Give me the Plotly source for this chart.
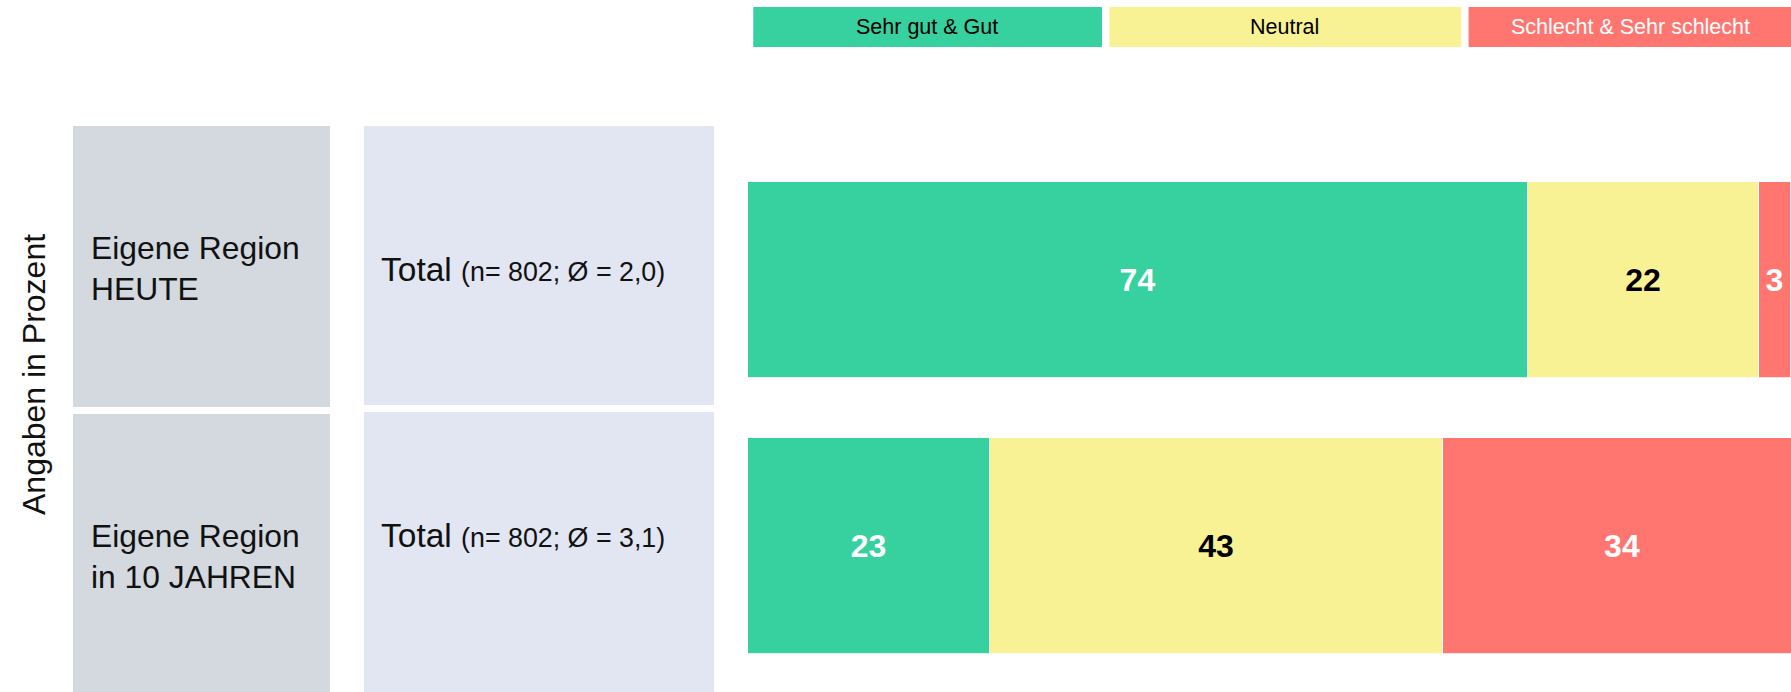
import plotly.graph_objects as go

# ---- data ----
rows = ["Eigene Region HEUTE", "Eigene Region in 10 JAHREN"]
row_labels = ["Eigene Region<br>HEUTE", "Eigene Region<br>in 10 JAHREN"]
row_totals = ["(n= 802; Ø = 2,0)", "(n= 802; Ø = 3,1)"]
series_names = ["Sehr gut & Gut", "Neutral", "Schlecht & Sehr schlecht"]
sehr_gut_gut = [74, 23]
neutral = [22, 43]
schlecht = [3, 34]
y_title = "Angaben in Prozent"

# ---- style ----
W, H = 1791, 692
L, R, T, B = 748, 0, 120, 13
FONT = "Liberation Sans, Arial, sans-serif"
COLORS = ["#37D09F", "#F8F294", "#FF7670"]
LABEL_COLORS = ["white", "black", "white"]
BAR_WIDTHS = [0.735, 0.81]
GRAY = "#D3D9DF"
LAV = "#E2E6F2"


def px2x(px):
    return (px - L) / (W - L - R)


def py2y(py):
    return (H - B - py) / (H - T - B)


fig = go.Figure()
for name, vals, col, lcol in zip(series_names, [sehr_gut_gut, neutral, schlecht], COLORS, LABEL_COLORS):
    fig.add_trace(go.Bar(
        y=rows, x=vals, name=name, orientation="h",
        width=BAR_WIDTHS,
        marker=dict(color=col, line=dict(color="rgba(255,255,255,0.8)", width=1)),
        text=[str(v) for v in vals], textposition="inside", insidetextanchor="middle",
        textfont=dict(family=FONT, size=32, color=lcol, weight="bold"),
        constraintext="none",
        showlegend=False, hoverinfo="skip",
    ))

shapes = []
annotations = []

# left label boxes
box_rows = [(126, 407, 126, 405), (414, 700, 412, 700)]
for i, (g0, g1, l0, l1) in enumerate(box_rows):
    shapes.append(dict(type="rect", xref="paper", yref="paper",
                       x0=px2x(73), x1=px2x(330), y0=py2y(g1), y1=py2y(g0),
                       fillcolor=GRAY, line=dict(width=0), layer="below"))
    shapes.append(dict(type="rect", xref="paper", yref="paper",
                       x0=px2x(364), x1=px2x(714), y0=py2y(l1), y1=py2y(l0),
                       fillcolor=LAV, line=dict(width=0), layer="below"))

label_y = [268, 556]
total_y = [269, 535]
for i in range(2):
    annotations.append(dict(xref="paper", yref="paper", x=px2x(89), y=py2y(label_y[i]),
                            xanchor="left", yanchor="middle", align="left", showarrow=False,
                            text=row_labels[i], font=dict(family=FONT, size=31.8, color="#111")))
    annotations.append(dict(xref="paper", yref="paper", x=px2x(379), y=py2y(total_y[i]),
                            xanchor="left", yanchor="middle", align="left", showarrow=False,
                            text="Total <span style='font-size:26.8px'>" + row_totals[i] + "</span>",
                            font=dict(family=FONT, size=33.5, color="#111")))

# y axis title
annotations.append(dict(xref="paper", yref="paper", x=px2x(34), y=py2y(375),
                        xanchor="center", yanchor="middle", showarrow=False, textangle=-90,
                        text=y_title, font=dict(family=FONT, size=32, color="#111")))

# top legend boxes
leg_boxes = [(0.5, 33.6), (34.3, 67.7), (68.4, 101.8)]
leg_text_x = [927, 1284, 1630]
leg_text_col = ["black", "black", "white"]
for (a, b), name, col, tx, tc in zip(leg_boxes, series_names, COLORS, leg_text_x, leg_text_col):
    shapes.append(dict(type="rect", xref="x", yref="paper", x0=a, x1=b,
                       y0=py2y(47), y1=py2y(7), fillcolor=col, line=dict(width=0)))
    annotations.append(dict(xref="paper", yref="paper", x=px2x(tx), y=py2y(27),
                            xanchor="center", yanchor="middle", showarrow=False,
                            text=name, font=dict(family=FONT, size=21.5, color=tc)))

fig.update_layout(
    width=W, height=H,
    margin=dict(l=L, r=R, t=T, b=B, pad=0),
    barmode="stack", bargap=0,
    paper_bgcolor="white", plot_bgcolor="white",
    xaxis=dict(range=[0, 99.0], visible=False, fixedrange=True),
    yaxis=dict(type="category", categoryorder="array", categoryarray=rows,
               range=[1.5, -0.6], visible=False, fixedrange=True),
    shapes=shapes, annotations=annotations,
    showlegend=False,
    uniformtext=dict(mode=False),
)

fig.write_html("out.html", config={"displayModeBar": False},
               post_script="document.body.style.margin='0';document.body.style.overflow='hidden';")
